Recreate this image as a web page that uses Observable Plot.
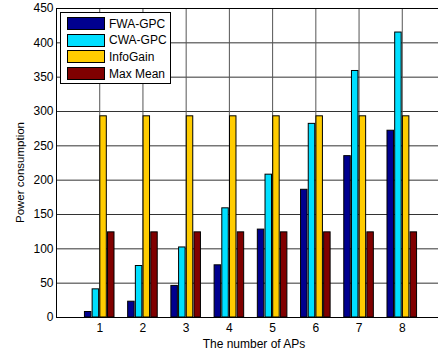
<!DOCTYPE html>
<html>
<head>
<meta charset="utf-8">
<script src="https://cdn.jsdelivr.net/npm/d3@7"></script>
<script src="https://cdn.jsdelivr.net/npm/@observablehq/plot@0.6"></script>
<style>
  html, body { margin: 0; padding: 0; background: #fff; overflow: hidden; }
  #wrap { position: relative; width: 438px; height: 351px; overflow: hidden; }
  #wrap svg { position: absolute; left: 0; top: 0; max-width: none !important; }
  .legend {
    position: absolute; left: 60px; top: 12px; width: 109px; height: 70px;
    border: 1px solid #000; background: #fff;
    font: 12px "Liberation Sans", Arial, sans-serif; color: #000;
  }
  .legend .row { position: absolute; left: 6px; height: 13px; display: flex; align-items: center; }
  .legend .sw { width: 36px; height: 11px; border: 1px solid #000; margin-right: 4px; }
</style>
</head>
<body>
<div id="wrap"></div>
<script>
// Number of access points on the x axis
const aps = [1, 2, 3, 4, 5, 6, 7, 8];

// Power consumption for each method
const fwaGpc   = [8, 23, 46, 76, 128, 186, 235, 272];
const cwaGpc   = [41, 75, 102, 159, 208, 282, 359, 415];
const infoGain = [293, 293, 293, 293, 293, 293, 293, 293];
const maxMean  = [124, 124, 124, 124, 124, 124, 124, 124];

const seriesNames  = ["FWA-GPC", "CWA-GPC", "InfoGain", "Max Mean"];
const seriesColors = ["#00008f", "#00dfff", "#ffcc00", "#800000"];

const xTicks = aps;
const yTicks = d3.range(0, 451, 50);

// Grouped bar layout (in x data units)
const slot = 0.178;
const barW = 0.15;

const values = [fwaGpc, cwaGpc, infoGain, maxMean];
const rows = [];
values.forEach((vals, s) => {
  vals.forEach((v, i) => {
    const c = aps[i] + (s - 1.5) * slot;
    rows.push({series: seriesNames[s], x1: c - barW / 2, x2: c + barW / 2, value: v});
  });
});

const chart = Plot.plot({
  width: 446,
  height: 351,
  marginLeft: 56,
  marginRight: 1,
  marginTop: 8,
  marginBottom: 34,
  style: {fontFamily: "'Liberation Sans', Arial, sans-serif", fontSize: "12px", color: "#000", background: "#fff", maxWidth: "none"},
  x: {domain: [0, 9], ticks: xTicks, label: null},
  y: {domain: [0, 450], ticks: yTicks, label: null},
  color: {domain: seriesNames, range: seriesColors},
  marks: [
    Plot.gridY(yTicks, {stroke: "#333", strokeOpacity: 1, strokeWidth: 1}),
    Plot.gridX(xTicks, {stroke: "#555", strokeOpacity: 1, strokeWidth: 1}),
    Plot.rectY(rows, {x1: "x1", x2: "x2", y1: 0, y2: "value", fill: "series", stroke: "#000", strokeWidth: 1}),
    // axes box: left, top and bottom edges (the right edge lies past the page)
    Plot.frame({anchor: "left", stroke: "#000", strokeWidth: 1}),
    Plot.frame({anchor: "top", stroke: "#000", strokeWidth: 1}),
    Plot.frame({anchor: "bottom", stroke: "#000", strokeWidth: 1}),
    Plot.axisX({ticks: xTicks, tickSize: 0, tickPadding: 6, fontSize: 12}),
    Plot.axisY({ticks: yTicks, tickSize: 0, tickPadding: 3, fontSize: 12}),
    Plot.text(["The number of APs"], {frameAnchor: "bottom", dx: 3, dy: 30, lineAnchor: "bottom", fontSize: 12}),
    Plot.text(["Power consumption"], {frameAnchor: "left", rotate: -90, dx: -36, dy: 60, fontSize: 11.5})
  ]
});

const wrap = document.getElementById("wrap");
wrap.appendChild(chart);

// Legend box in the upper-left corner of the axes
const legend = document.createElement("div");
legend.className = "legend";
seriesNames.forEach((name, i) => {
  const row = document.createElement("div");
  row.className = "row";
  row.style.top = (4 + i * 16.7) + "px";
  const sw = document.createElement("div");
  sw.className = "sw";
  sw.style.background = seriesColors[i];
  const label = document.createElement("span");
  label.textContent = name;
  row.appendChild(sw);
  row.appendChild(label);
  legend.appendChild(row);
});
wrap.appendChild(legend);
</script>
</body>
</html>
